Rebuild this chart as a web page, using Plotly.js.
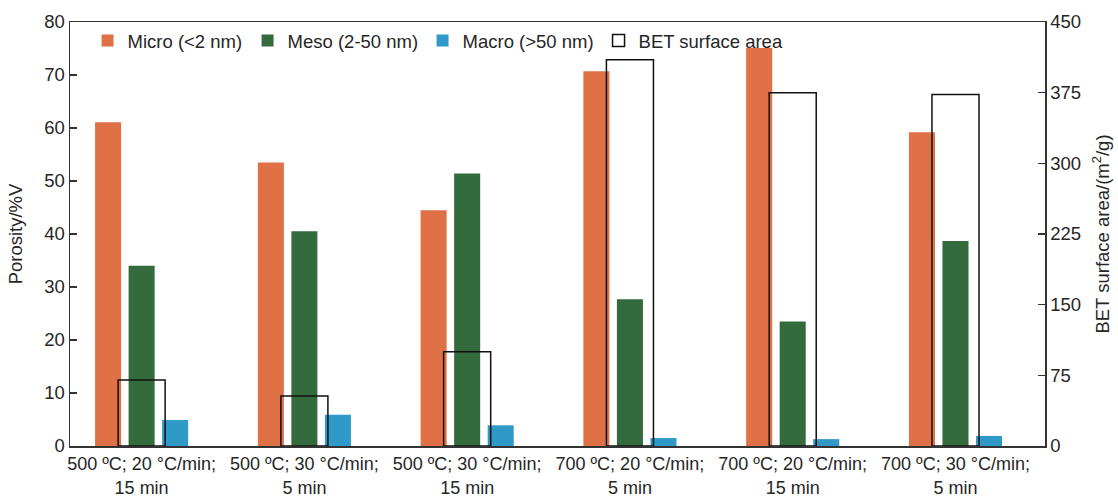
<!DOCTYPE html>
<html>
<head>
<meta charset="utf-8">
<script src="https://cdn.plot.ly/plotly-3.0.1.min.js"></script>
<style>
  html, body { margin: 0; padding: 0; background: #ffffff; }
  #chart { width: 1118px; height: 497px; }
</style>
</head>
<body>
<div id="chart"></div>
<script>
// Pyrolysis conditions (temperature; heating rate; hold time)
const conditions = [
  '500 ºC; 20 °C/min;<br>15 min',
  '500 ºC; 30 °C/min;<br>5 min',
  '500 ºC; 30 °C/min;<br>15 min',
  '700 ºC; 20 °C/min;<br>5 min',
  '700 ºC; 20 °C/min;<br>15 min',
  '700 ºC; 30 °C/min;<br>5 min'
];

// Pore volume fractions, %V
const microPores = [61.1, 53.5, 44.5, 70.7, 75.1, 59.2];
const mesoPores  = [34.0, 40.5, 51.4, 27.7, 23.5, 38.7];
const macroPores = [4.9, 5.9, 3.9, 1.5, 1.3, 1.9];

// BET specific surface area, m²/g
const betArea = [70, 53, 100, 410, 375, 373];

const yTicks  = [0, 10, 20, 30, 40, 50, 60, 70, 80];
const y2Ticks = [0, 75, 150, 225, 300, 375, 450];

const font = { family: 'Liberation Sans, Arial, sans-serif', size: 18.5, color: '#262626' };
const catFont = { family: 'Liberation Sans, Arial, sans-serif', size: 18, color: '#262626' };

const barW = 0.16;
const step = 0.206;

const traces = [
  {
    type: 'bar', name: 'Micro (<2 nm)', x: conditions, y: microPores,
    width: barW, offset: -step - barW / 2,
    marker: { color: '#E07046' }, legendwidth: 115
  },
  {
    type: 'bar', name: 'Meso (2-50 nm)', x: conditions, y: mesoPores,
    width: barW, offset: -barW / 2,
    marker: { color: '#336B3D' }, legendwidth: 130
  },
  {
    type: 'bar', name: 'Macro (>50 nm)', x: conditions, y: macroPores,
    width: barW, offset: step - barW / 2,
    marker: { color: '#2F9AC7' }, legendwidth: 131
  },
  {
    type: 'bar', name: 'BET surface area', x: conditions, y: betArea,
    yaxis: 'y2', width: 0.289, offset: -0.1445,
    marker: { color: 'rgba(0,0,0,0)', line: { color: '#111111', width: 1.5 } },
    legendwidth: 146
  }
];

const layout = {
  width: 1118, height: 497,
  margin: { l: 70, r: 73, t: 22, b: 51 },
  paper_bgcolor: '#ffffff', plot_bgcolor: '#ffffff',
  font: font,
  barmode: 'overlay',
  showlegend: true,
  hovermode: false,
  legend: {
    orientation: 'h', x: 0.018, y: 1, xanchor: 'left', yanchor: 'top',
    bgcolor: 'rgba(0,0,0,0)', font: font, traceorder: 'normal'
  },
  xaxis: {
    type: 'category', range: [-0.44, 5.55],
    showline: true, linecolor: '#333333', linewidth: 1.5, mirror: true,
    ticks: '', showgrid: false, zeroline: false, tickangle: 0,
    tickfont: catFont, ticklabelstandoff: 1, automargin: false
  },
  yaxis: {
    range: [0, 80], tickvals: yTicks, ticktext: yTicks.map(String),
    showline: true, linecolor: '#333333', linewidth: 1.5,
    ticks: 'inside', ticklen: 7, tickcolor: '#333333', tickwidth: 1.2,
    showgrid: false, zeroline: false, tickfont: font,
    title: { text: 'Porosity/%V', font: font, standoff: 16 },
    automargin: false
  },
  yaxis2: {
    overlaying: 'y', side: 'right',
    range: [0, 450], tickvals: y2Ticks, ticktext: y2Ticks.map(String),
    showline: true, linecolor: '#333333', linewidth: 1.5,
    ticks: 'inside', ticklen: 7, tickcolor: '#333333', tickwidth: 1.2,
    showgrid: false, zeroline: false, tickfont: font,
    title: { text: 'BET surface area/(m<sup>2</sup>/g)', font: font, standoff: 16 },
    automargin: false
  }
};

Plotly.newPlot('chart', traces, layout, { staticPlot: true, displayModeBar: false });
</script>
</body>
</html>
